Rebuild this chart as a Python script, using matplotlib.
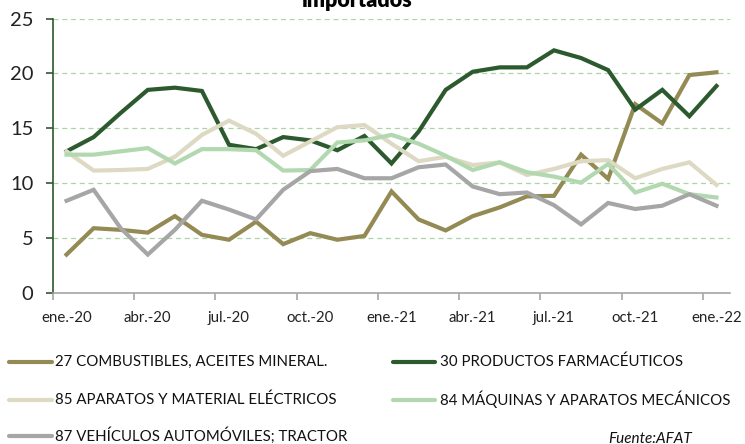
import matplotlib
matplotlib.use('Agg')
from matplotlib import pyplot as plt
from matplotlib.lines import Line2D

plt.rcParams['font.family'] = ['Lato', 'DejaVu Sans']

months = ['ene.-20', 'feb.-20', 'mar.-20', 'abr.-20', 'may.-20', 'jun.-20',
          'jul.-20', 'ago.-20', 'sep.-20', 'oct.-20', 'nov.-20', 'dic.-20',
          'ene.-21', 'feb.-21', 'mar.-21', 'abr.-21', 'may.-21', 'jun.-21',
          'jul.-21', 'ago.-21', 'sep.-21', 'oct.-21', 'nov.-21', 'dic.-21',
          'ene.-22']

combustibles = [3.5, 5.9, 5.75, 5.5, 7.0, 5.3, 4.85, 6.5, 4.45, 5.45, 4.85, 5.2,
                9.25, 6.7, 5.7, 7.0, 7.8, 8.8, 8.85, 12.6, 10.4, 17.2, 15.45, 19.85, 20.1]
farmaceuticos = [12.9, 14.2, 16.4, 18.5, 18.7, 18.4, 13.5, 13.1, 14.2, 13.9, 13.0, 14.3,
                 11.8, 14.7, 18.5, 20.15, 20.55, 20.55, 22.1, 21.4, 20.3, 16.7, 18.5, 16.1, 18.85]
electricos = [12.9, 11.15, 11.2, 11.3, 12.4, 14.4, 15.7, 14.5, 12.5, 13.8, 15.1, 15.3,
              13.6, 12.0, 12.4, 11.65, 11.9, 10.75, 11.3, 12.0, 12.1, 10.45, 11.3, 11.9, 9.85]
mecanicos = [12.6, 12.6, 12.9, 13.2, 11.8, 13.1, 13.1, 13.0, 11.15, 11.2, 13.7, 13.9,
             14.4, 13.6, 12.5, 11.2, 11.9, 11.0, 10.6, 10.05, 11.75, 9.15, 9.95, 9.0, 8.7]
vehiculos = [8.4, 9.4, 5.9, 3.5, 5.75, 8.4, 7.6, 6.7, 9.4, 11.1, 11.3, 10.45,
             10.45, 11.45, 11.7, 9.7, 9.0, 9.15, 8.0, 6.25, 8.2, 7.65, 7.95, 9.0, 7.95]

series = [
    ('27 COMBUSTIBLES, ACEITES MINERAL.', combustibles, '#948A54'),
    ('30 PRODUCTOS FARMACÉUTICOS', farmaceuticos, '#2C5A2E'),
    ('85 APARATOS Y MATERIAL ELÉCTRICOS', electricos, '#DDD9C3'),
    ('84 MÁQUINAS Y APARATOS MECÁNICOS', mecanicos, '#B2D8B0'),
    ('87 VEHÍCULOS AUTOMÓVILES; TRACTOR', vehiculos, '#A6A6A6'),
]

fig = plt.figure(figsize=(7.45, 4.44), dpi=100)
ax = fig.add_axes([53/745, 1 - 293/444, 677/745, 274.5/444])

x = list(range(len(months)))
for name, vals, col in series:
    ax.plot(x, vals, color=col, lw=3, solid_joinstyle='miter')

ax.set_xlim(-0.5, 24.5)
ax.set_ylim(0, 25)
ax.set_yticks([0, 5, 10, 15, 20, 25])
ax.yaxis.grid(True, color='#a9d5a9', linestyle=(0, (4, 3)), lw=0.9)
ax.set_axisbelow(True)

# ticks at boundaries, labels at categories
ax.set_xticks([i - 0.5 for i in range(0, 25, 3)])
ax.set_xticklabels([])
ax.set_xticks(list(range(0, 25, 3)), minor=True)
ax.set_xticklabels(months[::3], minor=True)
ax.tick_params(axis='x', which='major', length=5, color='#a6a6a6', width=1.2)
ax.tick_params(axis='x', which='minor', length=0, pad=13, labelsize=10.8, labelcolor='#222222')
ax.tick_params(axis='y', length=5, color='#2C5A2E', width=1.2, pad=9, labelsize=14.5, labelcolor='#222222')

for s in ['top', 'right']:
    ax.spines[s].set_visible(False)
ax.spines['left'].set_color('#2C5A2E')
ax.spines['left'].set_linewidth(1.2)
ax.spines['bottom'].set_color('#a6a6a6')
ax.spines['bottom'].set_linewidth(1.2)

# title (cut off at top in the original)
fig.text(356/745, 1 - 7/444, 'importados', ha='center', va='baseline',
         fontsize=15.5, fontweight='heavy')

# legend
rows = [362, 399.5, 436]
pos = [(9, 52, 55, rows[0]), (393, 435, 440, rows[0]),
       (9, 52, 55, rows[1]), (393, 435, 440, rows[1]),
       (9, 52, 55, rows[2])]
for (name, vals, col), (x0, x1, tx, yy) in zip(series, pos):
    fy = 1 - yy/444
    fig.add_artist(Line2D([x0/745, x1/745], [fy, fy], color=col, lw=3,
                          solid_capstyle='round', transform=fig.transFigure))
    fig.text(tx/745, fy, name, ha='left', va='center', fontsize=10.8, color='#111111')

fig.text(608/745, 1/444, 'Fuente:AFAT', ha='left', va='baseline',
         fontsize=11, style='italic', color='#111111')

fig.savefig('out.png', dpi=100)
